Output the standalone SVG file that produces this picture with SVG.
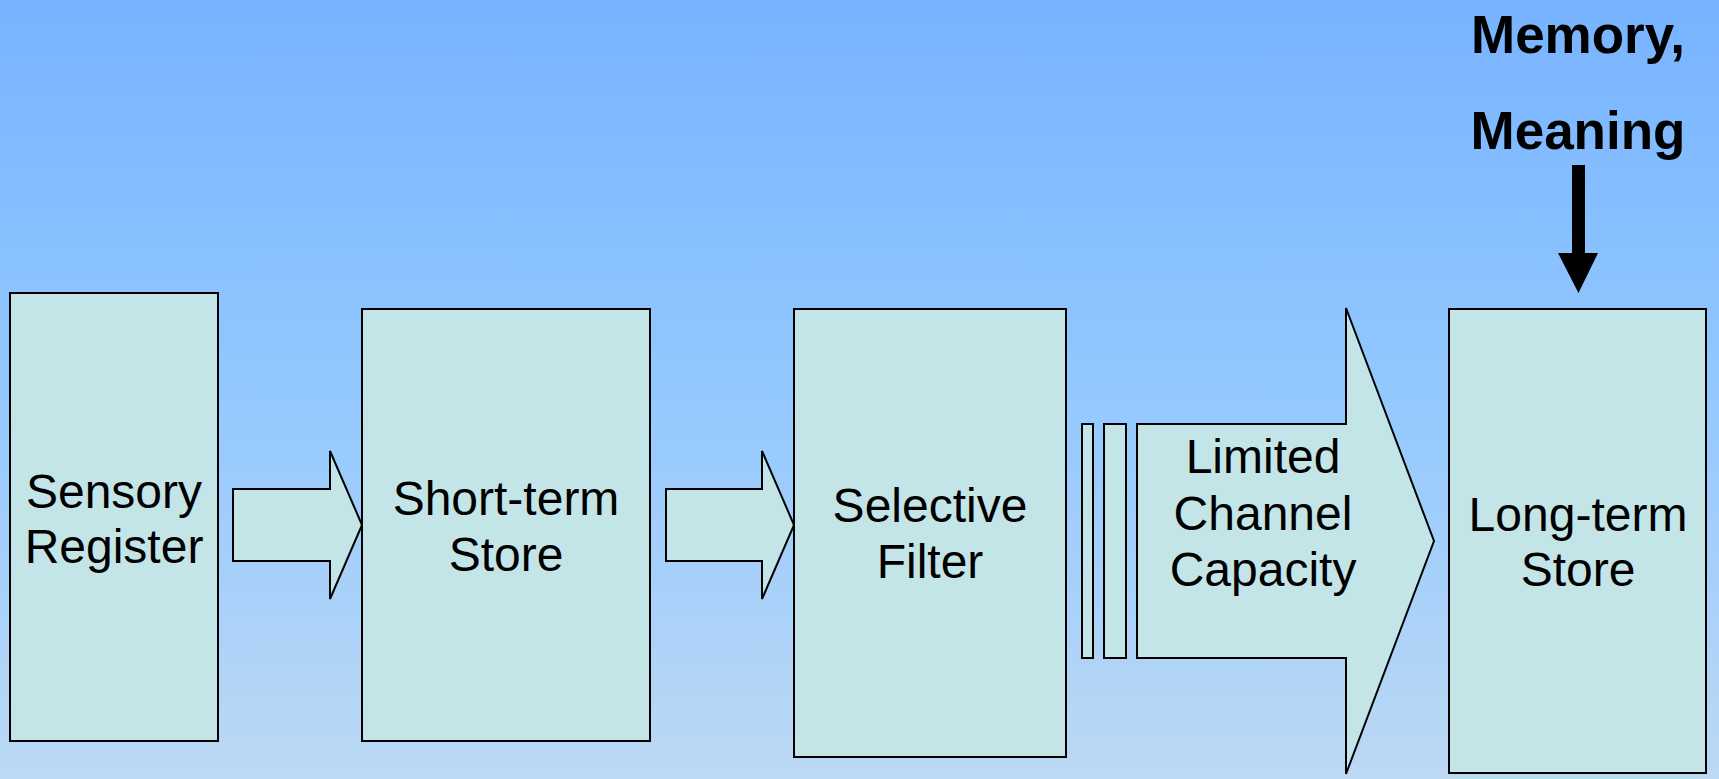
<svg xmlns="http://www.w3.org/2000/svg" width="1719" height="779" viewBox="0 0 1719 779">
  <defs>
    <linearGradient id="sky" x1="0" y1="0" x2="0" y2="1">
      <stop offset="0" stop-color="#77b3ff"/>
      <stop offset="0.5" stop-color="#93c8ff"/>
      <stop offset="1" stop-color="#bcd9f4"/>
    </linearGradient>
    <style>
      .box { fill: #c4e5e8; stroke: #000; stroke-width: 2; }
      .lbl { font-family: "Liberation Sans", Arial, sans-serif; font-size: 48px; fill: #000; text-anchor: middle; }
      .head { font-family: "Liberation Sans", Arial, sans-serif; font-size: 53px; font-weight: bold; fill: #000; text-anchor: middle; }
    </style>
  </defs>

  <rect x="0" y="0" width="1719" height="779" fill="url(#sky)"/>

  <g id="sensory-register">
    <rect class="box" x="10" y="293" width="208" height="448"/>
    <text class="lbl" x="114" y="508">Sensory</text>
    <text class="lbl" x="114" y="563">Register</text>
  </g>

  <g id="short-term-store">
    <rect class="box" x="362" y="309" width="288" height="432"/>
    <text class="lbl" x="506" y="515">Short-term</text>
    <text class="lbl" x="506" y="571">Store</text>
  </g>

  <g id="selective-filter">
    <rect class="box" x="794" y="309" width="272" height="448"/>
    <text class="lbl" x="930" y="522">Selective</text>
    <text class="lbl" x="930" y="578">Filter</text>
  </g>

  <g id="limited-channel-capacity">
    <rect class="box" x="1082" y="424" width="11" height="234"/>
    <rect class="box" x="1104" y="424" width="22" height="234"/>
    <polygon class="box" points="1137,424 1346,424 1346,308 1434,541 1346,774 1346,658 1137,658"/>
    <text class="lbl" x="1263" y="473">Limited</text>
    <text class="lbl" x="1263" y="530">Channel</text>
    <text class="lbl" x="1263" y="586">Capacity</text>
  </g>

  <g id="long-term-store">
    <rect class="box" x="1449" y="309" width="257" height="464"/>
    <text class="lbl" x="1578" y="531">Long-term</text>
    <text class="lbl" x="1578" y="586">Store</text>
  </g>

  <g id="memory-meaning">
    <text class="head" x="1578" y="53">Memory,</text>
    <text class="head" x="1578" y="149">Meaning</text>
  </g>

  <g id="connectors">
    <polygon class="box" points="233,489 330,489 330,451 362,525 330,599 330,561 233,561"/>
    <polygon class="box" points="666,489 762,489 762,451 794,525 762,599 762,561 666,561"/>
    <polygon fill="#000" points="1572,165 1585,165 1585,253 1598,253 1578.5,293 1558,253 1572,253"/>
  </g>
</svg>
